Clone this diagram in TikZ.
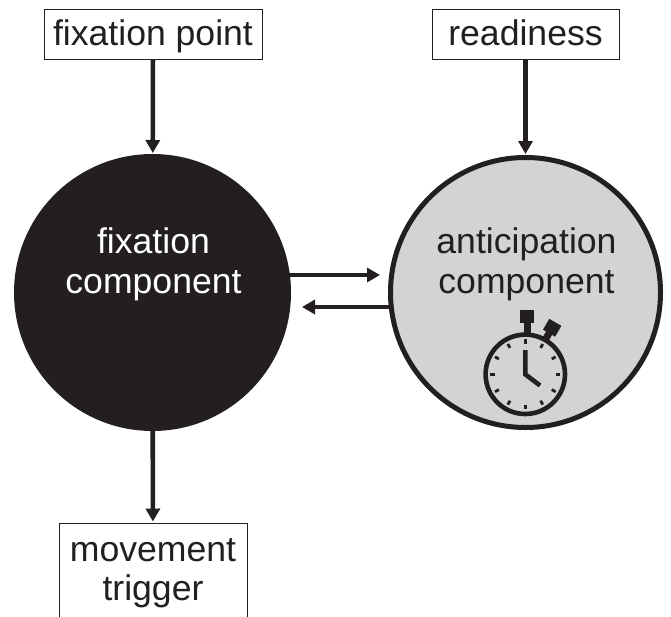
\documentclass[tikz,border=0pt]{standalone}
\usepackage{fontspec}
\setmainfont{Liberation Sans}
\usetikzlibrary{arrows.meta}
\definecolor{ink}{HTML}{231F20}
\definecolor{pale}{HTML}{D1D3D4}
\tikzset{
 txt/.style={align=center,inner sep=0pt,font=\fontsize{35.6}{39.5}\selectfont,text=ink},
 lab/.style={txt,draw=ink,line width=1pt,fill=white},
 onelab/.style={lab,text height=25pt,text depth=2pt,minimum height=50pt},
 conn/.style={draw=ink,line width=4.6pt,-{Triangle[length=13pt,width=14pt,color=ink]},shorten >=1pt},
 circ/.style={circle,draw=ink,line width=5pt,inner sep=0pt},
 watch/.style={draw=ink,line width=4.6pt}
}
\begin{document}
\begin{tikzpicture}[x=1pt,y=-1pt]
\useasboundingbox (0,0) rectangle (671,616);
\node[onelab,minimum width=218pt] (fp) at (153,34) {fixation point};
\node[onelab,minimum width=187pt] (rd) at (525.5,34) {readiness};
\node[circ,fill=ink,minimum size=272pt] (fc) at (152.5,292.5) {};
\node[circ,fill=pale,minimum size=270pt] (ac) at (525.5,292.5) {};
\node[txt,text=white] (fl) at (153.5,264.5) {fixation\\component};
\node[txt] (al) at (526.5,264.5) {anticipation\\component};
\node[lab,minimum width=188pt,minimum height=100pt] (mt) at (153,573) {movement\\trigger};
\draw[conn] (fp) -- (fc);
\draw[conn] (rd) -- (ac);
\draw[conn] (fc) -- (mt);
\coordinate (a1) at (289,275);
\coordinate (a2) at (381,275);
\coordinate (b1) at (389,307);
\coordinate (b2) at (301,307);
\draw[conn] (a1) -- (a2);
\draw[conn] (b1) -- (b2);
% stopwatch
\coordinate (w) at (525.3,374.3);
\fill[ink] (520,310) rectangle (534,323);
\fill[ink] (523.5,322) rectangle (530.5,334);
\begin{scope}[shift={(w)},rotate=-30]
 \fill[ink] (-7,-60) rectangle (7,-47.5);
 \fill[ink] (-3.5,-48) rectangle (3.5,-38);
\end{scope}
\draw[watch] (w) circle[radius=39.7pt];
\foreach \a in {0,30,...,330}{
 \draw[ink,line width=2.8pt] ([shift={(\a:30.5pt)}]w) -- ([shift={(\a:35pt)}]w);
}
\draw[ink,line width=4.6pt,line cap=butt,line join=miter] (525.3,350) -- (w) -- (540,385.5);
\end{tikzpicture}
\end{document}
